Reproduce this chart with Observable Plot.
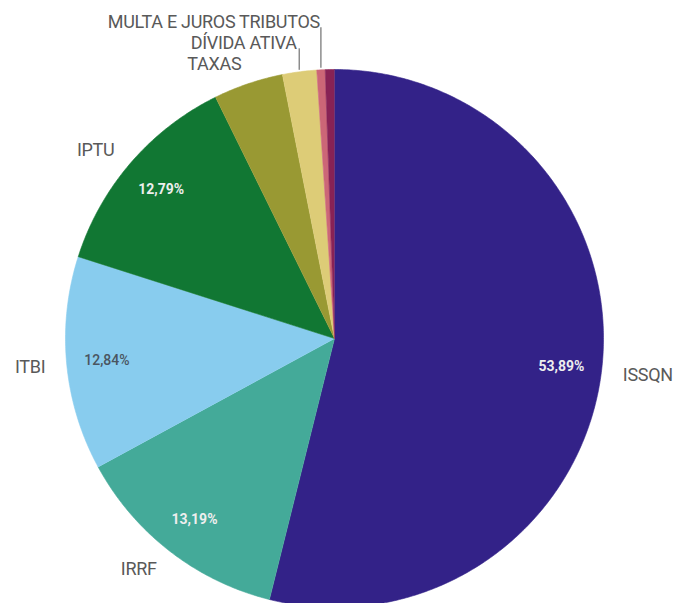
<!DOCTYPE html>
<html>
<head>
<meta charset="utf-8">
<script src="https://cdn.jsdelivr.net/npm/d3@7"></script>
<script src="https://cdn.jsdelivr.net/npm/@observablehq/plot@0.6"></script>
<style>
  html, body { margin: 0; padding: 0; background: #fff; }
  #chart { width: 678px; height: 603px; overflow: hidden; }
  .lbl text { letter-spacing: -0.3px; }
</style>
</head>
<body>
<div id="chart"></div>
<script>
const categories = ["ISSQN", "IRRF", "ITBI", "IPTU", "TAXAS", "DÍVIDA ATIVA", "MULTA E JUROS TRIBUTOS", "OUTROS"];
const values = [53.89, 13.19, 12.84, 12.79, 4.19, 2.05, 0.50, 0.55];
const percentLabels = ["53,89%", "13,19%", "12,84%", "12,79%", "", "", "", ""];
const showLabel = [true, true, true, true, true, true, true, false];
const colors = ["#332288", "#44AA99", "#88CCEE", "#117733", "#999933", "#DDCC77", "#CC6677", "#882255"];
const percentColors = ["#eeeeee", "#eeeeee", "#4a5560", "#eeeeee", "#eeeeee", "#eeeeee", "#eeeeee", "#eeeeee"];
const percentWeights = ["bold", "bold", "normal", "bold", "bold", "bold", "bold", "bold"];

const W = 678, H = 603;
const cx = 334, cy = 338, R = 269;
const total = d3.sum(values);

// angles clockwise from 12 o'clock
let acc = 0;
const slices = categories.map((c, i) => {
  const a0 = acc / total * 2 * Math.PI;
  acc += values[i];
  const a1 = acc / total * 2 * Math.PI;
  return {cat: c, i, a0, a1, mid: (a0 + a1) / 2};
});
const pt = (a, r) => ({x: cx + r * Math.sin(a), y: cy - r * Math.cos(a)});

const poly = [];
for (const s of slices) {
  poly.push({cat: s.cat, color: colors[s.i], ...pt(0, 0)});
  const n = Math.max(2, Math.ceil((s.a1 - s.a0) / (Math.PI / 360)));
  for (let k = 0; k <= n; k++) {
    const a = s.a0 + (s.a1 - s.a0) * k / n;
    poly.push({cat: s.cat, color: colors[s.i], ...pt(a, R)});
  }
}

// outside labels with simple upward collision avoidance
const labels = [];
let prevY = null;
for (const s of slices) {
  if (!showLabel[s.i]) continue;
  const p = pt(s.mid, R * 1.08);
  let y = p.y;
  let moved = false;
  if (s.mid > 1.5 * Math.PI && prevY !== null && prevY - y < 21) {
    y = prevY - 21; moved = true;
  }
  if (s.mid > 1.5 * Math.PI) prevY = y;
  const e = pt(s.mid, R + 2);
  labels.push({text: s.cat, x: p.x, y, anchor: s.mid < Math.PI ? "start" : "end", moved, lx: e.x, ly1: y + 6, ly2: e.y});
}

const pcts = slices.filter(s => percentLabels[s.i]).map(s => ({text: percentLabels[s.i], color: percentColors[s.i], w: percentWeights[s.i], ...pt(s.mid, R * 0.85)}));

const chart = Plot.plot({
  width: W, height: H,
  margin: 0,
  x: {domain: [0, W], range: [0, W], axis: null},
  y: {domain: [0, H], range: [0, H], axis: null},
  color: {type: "identity"},
  style: {fontFamily: "Roboto, sans-serif", background: "#fff"},
  marks: [
    Plot.line(poly, {x: "x", y: "y", z: "cat", fill: "color", stroke: "color", strokeWidth: 0.6}),
    Plot.link(labels.filter(d => d.moved), {x1: "lx", x2: "lx", y1: "ly1", y2: "ly2", stroke: "#8c8c8c", strokeWidth: 1.5}),
    Plot.text(labels.filter(d => d.anchor === "start"), {x: "x", y: "y", text: "text", textAnchor: "start", fontSize: 18, fill: "#595959", dy: 1, className: "lbl"}),
    Plot.text(labels.filter(d => d.anchor === "end"), {x: "x", y: "y", text: "text", textAnchor: "end", fontSize: 18, fill: "#595959", dy: 1, className: "lbl"}),
    Plot.text(pcts.filter(d => d.w === "bold"), {x: "x", y: "y", text: "text", fill: "color", fontSize: 14, fontWeight: "bold"}),
    Plot.text(pcts.filter(d => d.w !== "bold"), {x: "x", y: "y", text: "text", fill: "color", fontSize: 14, fontWeight: 500})
  ]
});
document.getElementById("chart").appendChild(chart);
</script>
</body>
</html>
